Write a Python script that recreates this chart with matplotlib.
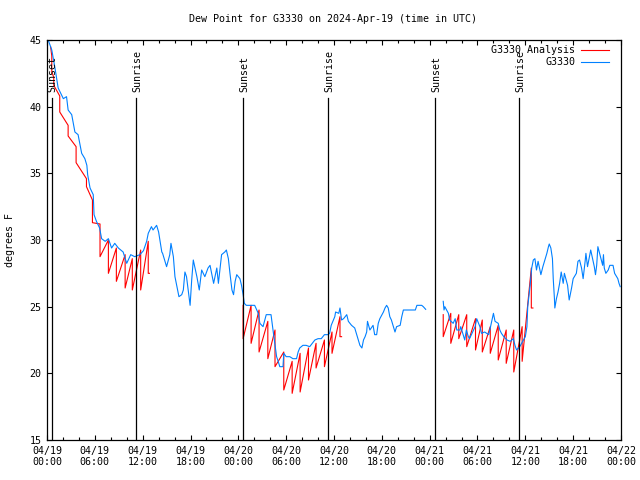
import numpy as np
import matplotlib
matplotlib.use("Agg")
import matplotlib.pyplot as plt

# --- datos (horas desde 04/19 00:00 UTC) ---
obs_horas = [
    0.15, 0.6, 1.0, 1.4, 2.05, 2.45, 2.65, 3.1, 3.5, 3.9, 4.35, 4.75, 5.0, 5.1,
    5.4, 5.8, 5.9, 6.2, 6.6, 6.85, 7.3, 7.7, 8.1, 8.5, 8.95, 9.55, 10.0, 10.5,
    11.0, 11.65, 12.1, 12.5, 12.7, 13.1, 13.3, 13.75, 14.0, 14.4, 14.5, 15.0,
    15.4, 15.55, 15.85, 16.05, 16.3, 16.55, 16.9, 17.1, 17.3, 17.5, 17.95,
    18.15, 18.35, 18.8, 19.1, 19.4, 19.8, 20.2, 20.45, 20.9, 21.3, 21.5, 21.9,
    22.3, 22.5, 22.75, 22.95, 23.2, 23.4, 23.6, 23.8, 24.2, 24.4, 24.6, 24.75,
    25.0, 25.6, 26.05, 26.2, 26.5, 26.7, 27.1, 27.5, 28.1, 28.35, 28.8, 29.0,
    29.2, 29.6, 29.7, 30.0, 30.45, 30.85, 31.3, 31.5, 31.7, 32.1, 32.5, 32.95,
    33.6, 34.0, 34.4, 34.8, 35.25, 35.45, 35.65, 36.1, 36.2, 36.6, 36.75,
    36.95, 37.2, 37.6, 37.8, 38.2, 38.6, 38.85, 39.05, 39.25, 39.5, 39.7, 39.9,
    40.1, 40.2, 40.5, 40.9, 41.1, 41.35, 41.55, 41.75, 42.2, 42.4, 42.6, 42.8,
    43.0, 43.2, 43.65, 43.85, 44.3, 44.5, 44.7, 46.2, 46.4, 47.0, 47.2, 47.5,
    48.5,
    49.7, 49.8, 49.9, 50.35, 50.5, 50.95, 51.2, 51.4, 51.8, 51.9, 52.4, 52.6,
    52.85, 53.0, 53.7, 53.9, 54.3, 54.5, 54.9, 55.4, 55.6, 56.0, 56.2, 56.6,
    56.8, 57.0, 57.3, 57.7, 58.1, 58.5, 58.7, 58.9, 59.3, 60.0, 60.2, 60.3,
    60.6, 60.8, 61.0, 61.2, 61.4, 61.6, 61.95, 62.2, 62.5, 62.7, 62.9, 63.0,
    63.2, 63.4, 63.5, 63.65, 63.7, 63.9, 64.1, 64.3, 64.5, 64.75, 64.9, 65.3,
    65.5, 65.8, 66.0, 66.4, 66.6, 66.8, 67.05, 67.25, 67.5, 67.6, 67.8, 68.2,
    68.65, 68.8, 68.95, 69.1, 69.7, 69.8, 69.9, 70.1, 70.4, 70.6, 71.0, 71.2,
    71.6, 71.75, 71.9,
]
obs_dewpt = [
    45.0, 44.25, 42.9, 41.4, 40.6, 40.75, 39.75, 39.4, 38.1, 37.9, 36.5, 36.1, 35.6, 34.9,
    33.9, 33.4, 31.9, 31.4, 30.9, 30.1, 29.9, 30.1, 29.4, 29.75, 29.4, 29.1, 28.25, 28.9,
    28.75, 28.9, 29.2, 29.9, 30.5, 31.0, 30.75, 31.1, 30.6, 29.1, 29.0, 28.0,
    28.9, 29.75, 28.75, 27.25, 26.5, 25.75, 25.9, 26.25, 27.6, 27.25, 25.1,
    27.0, 28.5, 27.25, 26.25, 27.75, 27.25, 27.9, 28.1, 26.75, 27.9, 26.75, 28.9,
    29.1, 29.25, 28.6, 27.5, 26.25, 25.9, 26.9, 27.4, 27.1, 26.6, 25.9, 25.25,
    25.1, 25.1, 25.1, 24.9, 24.5, 23.75, 23.5, 24.4, 24.4, 23.25, 21.25, 20.9,
    20.5, 20.5, 21.5, 21.25, 21.25, 21.1, 21.1, 21.6, 21.9, 22.1, 22.1, 22.0,
    22.5, 22.6, 22.6, 22.9, 22.9, 23.0, 23.6, 24.25, 24.6, 24.5, 24.9,
    24.0, 24.1, 24.4, 23.9, 23.6, 23.4, 22.9, 22.5, 22.1, 21.9, 22.5, 22.75,
    23.1, 23.9, 23.25, 23.6, 22.9, 22.9, 23.75, 24.1, 24.6, 24.9, 25.1, 24.9,
    24.25, 24.0, 23.1, 23.5, 23.6, 24.25, 24.75, 24.75, 25.1, 25.1, 25.0, 24.8,
    np.nan,
    25.4, 24.75, 25.0, 24.5, 24.0, 23.75, 24.1, 23.25, 23.25, 23.5, 22.5, 23.25,
    22.75, 22.6, 23.5, 24.1, 23.5, 23.0, 23.1, 22.9, 23.4, 24.5, 23.9, 23.75,
    23.25, 23.0, 22.75, 22.5, 22.4, 22.6, 22.1, 21.75, 22.0, 22.75, 23.5, 25.0,
    26.6, 27.9, 28.5, 28.6, 27.75, 28.4, 27.4, 28.0, 28.6, 29.0, 29.5, 29.7,
    29.4, 28.6, 27.1, 25.6, 24.9, 25.6, 26.1, 26.75, 27.6, 26.75, 27.5, 26.6,
    25.5, 26.4, 27.1, 27.5, 28.4, 28.5, 27.9, 27.1, 28.4, 29.0, 28.0, 29.25,
    28.0, 27.4, 28.1, 29.5, 28.1, 28.9, 27.9, 27.5, 27.75, 28.1, 28.1, 27.5,
    27.1, 26.75, 26.5,
]

# analisis: cada salto (hora, pico antes del salto, valle despues)
ana_horas = [
    0.45, 0.6, 0.85, 1.6, 2.65, 3.65, 4.95, 5.7, 6.65, 7.7, 8.7, 9.8, 10.7, 11.75, 12.7, 12.85,
    24.6, 25.6, 26.6, 27.7, 28.6, 29.7, 30.75, 31.75, 32.8, 33.75, 34.8, 35.75, 36.75, 36.95,
    49.7, 50.65, 51.65, 52.65, 53.75, 54.6, 55.6, 56.6, 57.6, 58.55, 59.6, 60.75, 60.95,
]
ana_pico = [
    44.5, 43.8, 42.2, 40.8, 38.6, 37.0, 34.6, 33.0, 31.2, 30.0, 29.4, 28.9, 28.6, 29.25, 29.9, 27.5,
    25.1, 25.1, 24.75, 23.9, 23.25, 21.6, 20.9, 21.5, 21.9, 22.25, 22.5, 23.1, 24.25, 22.75,
    24.4, 24.5, 24.4, 24.4, 24.1, 24.0, 23.5, 23.6, 23.25, 23.25, 23.5, 27.9, 24.9,
]
ana_valle = [
    44.5, 42.6, 41.6, 39.6, 37.8, 35.8, 34.0, 31.3, 28.75, 27.5, 26.9, 26.4, 26.25, 26.25, 27.5, 27.5,
    22.6, 22.25, 21.6, 21.1, 20.5, 18.75, 18.5, 18.6, 19.5, 20.4, 20.5, 21.5, 22.75, 22.75,
    22.75, 22.25, 22.6, 22.0, 21.75, 21.6, 21.5, 21.0, 20.75, 20.1, 20.9, 24.9, 24.9,
]
ana_tramo = [1] * 16 + [2] * 14 + [3] * 13

puesta_sol = [0.58, 24.6, 48.7]
salida_sol = [11.17, 35.29, 59.25]

etiquetas_x = ["04/19\n00:00", "04/19\n06:00", "04/19\n12:00", "04/19\n18:00",
               "04/20\n00:00", "04/20\n06:00", "04/20\n12:00", "04/20\n18:00",
               "04/21\n00:00", "04/21\n06:00", "04/21\n12:00", "04/21\n18:00",
               "04/22\n00:00"]

AZUL = '#0080ff'
ROJO = '#ff0000'
FUENTE = 'DejaVu Sans Mono'
TAM = 7.2

plt.rcParams['font.family'] = FUENTE
plt.rcParams['font.size'] = TAM

fig = plt.figure(figsize=(6.4, 4.8), dpi=100)
ax = fig.add_axes([47 / 640, 40 / 480, 574 / 640, 400 / 480])

# lineas del analisis (diente de sierra)
for tramo in (1, 2, 3):
    xs, ys = [], []
    for h, p, v, t in zip(ana_horas, ana_pico, ana_valle, ana_tramo):
        if t != tramo:
            continue
        xs += [h, h]
        ys += [p, v]
    ax.plot(xs, ys, color=ROJO, linewidth=0.8)

ax.plot(obs_horas, obs_dewpt, color=AZUL, linewidth=0.8)

# amanecer / atardecer
for h in puesta_sol:
    ax.plot([h, h], [15, 40.65], color='black', linewidth=0.9)
    ax.text(h + 0.15, 41.1, 'Sunset', rotation=90, ha='center', va='bottom')
for h in salida_sol:
    ax.plot([h, h], [15, 40.65], color='black', linewidth=0.9)
    ax.text(h + 0.15, 41.1, 'Sunrise', rotation=90, ha='center', va='bottom')

ax.set_xlim(0, 72)
ax.set_ylim(15, 45)
ax.set_xticks(np.arange(0, 73, 6))
ax.set_xticks(np.arange(0, 73, 2), minor=True)
ax.set_xticklabels(etiquetas_x)
ax.set_yticks(np.arange(15, 46, 5))
ax.tick_params(which='both', direction='in', top=True, right=True, width=0.8,
               labelsize=TAM, pad=4)
ax.tick_params(which='major', length=3.5)
ax.tick_params(which='minor', length=2.2)
for s in ax.spines.values():
    s.set_linewidth(0.9)

# leyenda manual estilo gnuplot
ax.text(0.92, 0.975, 'G3330 Analysis', transform=ax.transAxes, ha='right', va='center')
ax.plot([0.931, 0.979], [0.975, 0.975], transform=ax.transAxes, color=ROJO, linewidth=0.8)
ax.text(0.92, 0.944, 'G3330', transform=ax.transAxes, ha='right', va='center')
ax.plot([0.931, 0.979], [0.944, 0.944], transform=ax.transAxes, color=AZUL, linewidth=0.8)

fig.text(333 / 640, 1 - 19 / 480, 'Dew Point for G3330 on 2024-Apr-19 (time in UTC)',
         ha='center', va='center')
fig.text(10 / 640, 0.5, 'degrees F', rotation=90, ha='center', va='center')

fig.savefig('out.png', dpi=100)
